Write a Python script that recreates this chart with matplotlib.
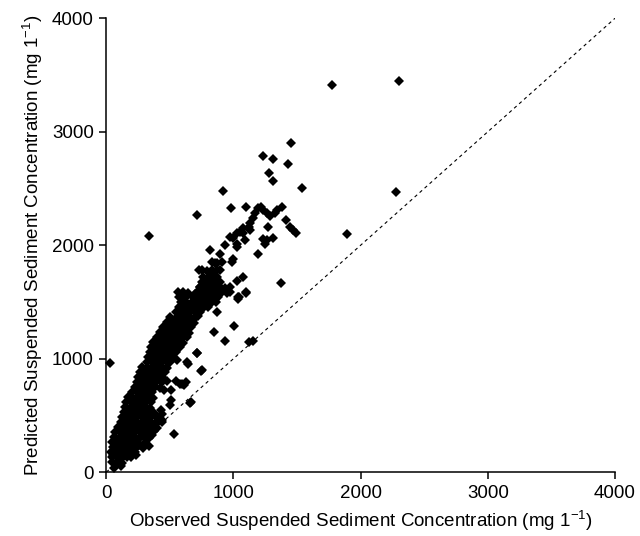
import matplotlib
matplotlib.use("Agg")
import matplotlib.pyplot as plt

plt.rcParams['font.family'] = ['Liberation Sans', 'DejaVu Sans']
plt.rcParams['mathtext.fontset'] = 'custom'
plt.rcParams['mathtext.rm'] = 'Liberation Sans'
plt.rcParams['mathtext.it'] = 'Liberation Sans'

# dense core of the cloud, read row by row (observed, predicted) in mg/l
core_obs = [
    63, 118,
    47, 86, 126,
    47, 86, 126, 165, 197, 236,
    39, 79, 118, 157, 197, 228,
    55, 94, 134, 173, 212, 244, 291, 338,
    47, 86, 126, 165, 204, 244, 306,
    63, 102, 141, 181, 220, 259, 299, 338,
    71, 110, 149, 189, 228, 267, 307, 346, 377,
    94, 134, 173, 212, 252, 291, 330, 369, 401,
    118, 157, 197, 236, 275, 314, 354, 393, 417, 440,
    126, 165, 204, 244, 283, 322, 362, 401,
    141, 181, 220, 259, 299, 338, 377, 432,
    149, 189, 228, 267, 307, 346,
    157, 197, 236, 275, 314, 354, 511, 668,
    173, 212, 252, 291, 330, 369,
    204, 244, 283, 322, 362, 456, 511,
    228, 267, 307, 346, 385, 424,
    244, 283, 322, 362, 401, 440, 480, 550, 597, 629,
    252, 291, 330, 369, 409, 448,
    267, 307, 346, 385, 424, 464, 755,
    283, 322, 362, 401, 440, 480,
    322, 362, 401, 440, 480, 503, 558, 637,
    330, 369, 409, 448, 487, 527,
    346, 385, 424, 464, 503, 550, 715,
    354, 393, 432, 472, 511, 550, 582,
    369, 409, 448, 487, 527, 566, 605,
    401, 440, 480, 519, 558, 597, 633,
    425, 464, 503, 542, 582, 621, 650,
    450, 490, 527, 566, 605, 640, 668,
    480, 519, 558, 597, 637, 676, 690,
    505, 545, 582, 621, 660, 700, 720,
    545, 582, 621, 660, 700, 740, 872,
    570, 605, 645, 684, 723, 762, 802,
    590, 629, 668, 707, 747, 786, 825, 865,
    575, 620, 684, 723, 762, 802, 841, 880,
    566, 605, 645, 715, 755, 794, 833, 872, 912, 950, 975, 1100,
    739, 778, 817, 857, 896, 935, 975,
    755, 794, 833, 872, 896,
    762, 802, 841, 872,
    755, 794, 833, 872, 896,
    833, 872, 912,
]
core_pred = [
    40, 52,
    88, 92, 84,
    130, 135, 128, 138, 132, 150,
    176, 180, 172, 178, 174, 182,
    220, 216, 224, 218, 222, 226, 214, 228,
    264, 268, 260, 266, 262, 270, 258,
    308, 304, 312, 306, 310, 302, 314, 300,
    352, 356, 348, 354, 350, 358, 346, 352, 360,
    396, 392, 400, 394, 398, 390, 402, 396, 392,
    440, 444, 436, 442, 438, 446, 434, 440, 448, 440,
    485, 481, 489, 483, 487, 479, 491, 485,
    529, 533, 525, 531, 527, 535, 523, 546,
    573, 569, 577, 571, 575, 567,
    617, 621, 613, 619, 615, 623, 634, 617,
    661, 657, 665, 659, 663, 655,
    705, 709, 701, 707, 703, 722, 722,
    749, 745, 753, 747, 751, 743,
    793, 797, 789, 795, 800, 791, 805, 800, 780, 795,
    837, 833, 841, 835, 839, 831,
    881, 885, 877, 883, 879, 887, 899,
    925, 921, 929, 923, 927, 919,
    969, 973, 965, 971, 967, 975, 987, 970,
    1013, 1009, 1017, 1011, 1015, 1007,
    1057, 1061, 1053, 1059, 1055, 1063, 1046,
    1101, 1097, 1105, 1099, 1103, 1095, 1107,
    1145, 1149, 1141, 1147, 1143, 1151, 1139,
    1189, 1185, 1193, 1187, 1191, 1183, 1195,
    1233, 1237, 1229, 1235, 1231, 1239, 1227,
    1277, 1273, 1281, 1275, 1279, 1271, 1283,
    1321, 1325, 1317, 1323, 1319, 1327, 1315,
    1366, 1362, 1370, 1364, 1368, 1360, 1372,
    1410, 1414, 1406, 1412, 1408, 1416, 1410,
    1454, 1450, 1458, 1452, 1456, 1448, 1460,
    1498, 1502, 1494, 1500, 1496, 1504, 1492, 1498,
    1542, 1538, 1546, 1540, 1544, 1536, 1548, 1542,
    1586, 1590, 1582, 1588, 1584, 1592, 1580, 1586, 1590, 1582, 1586, 1586,
    1630, 1626, 1634, 1628, 1632, 1624, 1636,
    1674, 1670, 1678, 1672, 1676,
    1718, 1714, 1722, 1716,
    1780, 1776, 1784, 1778, 1782,
    1850, 1846, 1854,
]

# upper arm of the cloud
upper_obs = [1454, 1229, 1310, 1425, 1281, 1310, 1538, 914, 715, 340,
             977, 1100, 1190, 1215, 1236, 1381, 1345, 1325, 1289, 1265,
             1171, 1155, 1132, 1132, 1415, 1446, 1470, 1493, 1275, 1231,
             1265, 1250, 1313, 1197, 996, 1079, 1027, 1370, 726, 812,
             935, 974, 998, 1030, 1053, 1077, 1077, 1119, 1027, 1093,
             1030, 896, 857, 830, 791, 739, 699, 909, 948, 1040,
             1098, 1032, 1038, 990]
upper_pred = [2901, 2784, 2757, 2713, 2637, 2564, 2502, 2481, 2270, 2085,
              2330, 2340, 2330, 2340, 2308, 2340, 2308, 2282, 2260, 2282,
              2282, 2238, 2194, 2132, 2226, 2158, 2130, 2104, 2158, 2059,
              2044, 2015, 2062, 1921, 1877, 1721, 1683, 1665, 1780, 1956,
              2006, 2074, 2062, 2106, 2117, 2150, 2106, 2161, 2015, 2044,
              1982, 1927, 1839, 1751, 1692, 1633, 1574, 1604, 1589, 1545,
              1580, 1530, 1542, 1850]

# points scattered below the main band and far outliers
spread_obs = [31, 1006, 851, 935, 1125, 1150, 712, 642, 744, 581,
              608, 660, 503, 529, 359, 333, 267, 136, 57, 202,
              438, 438, 1776, 2302, 1894, 2279]
spread_pred = [963, 1289, 1236, 1154, 1148, 1160, 1046, 951, 892, 781,
               766, 611, 590, 335, 326, 311, 244, 165, 150, 223,
               517, 458, 3410, 3445, 2097, 2467]

observed = core_obs + upper_obs + spread_obs
predicted = core_pred + upper_pred + spread_pred

fig = plt.figure(figsize=(6.4, 5.36), dpi=100)
ax = fig.add_axes([0.166, 0.119, 0.795, 0.847])

ax.plot([0, 4000], [0, 4000], color='black', linestyle=(0, (3, 3)), linewidth=0.8)
ax.plot(observed, predicted, linestyle='none', marker='D', markersize=4.7,
        color='black', markeredgewidth=0, clip_on=False)

ax.set_xlim(0, 4000)
ax.set_ylim(0, 4000)
ax.set_xticks([0, 1000, 2000, 3000, 4000])
ax.set_yticks([0, 1000, 2000, 3000, 4000])
ax.spines['top'].set_visible(False)
ax.spines['right'].set_visible(False)
for side in ['left', 'bottom']:
    ax.spines[side].set_linewidth(1.1)
ax.tick_params(direction='out', length=5, width=1.1, labelsize=13.5, pad=4)

ax.set_xlabel(r'Observed Suspended Sediment Concentration (mg 1$^{-1}$)', fontsize=13.5, labelpad=5)
ax.set_ylabel(r'Predicted Suspended Sediment Concentration (mg 1$^{-1}$)', fontsize=13.5, labelpad=5)

fig.savefig('out.png', dpi=100)
